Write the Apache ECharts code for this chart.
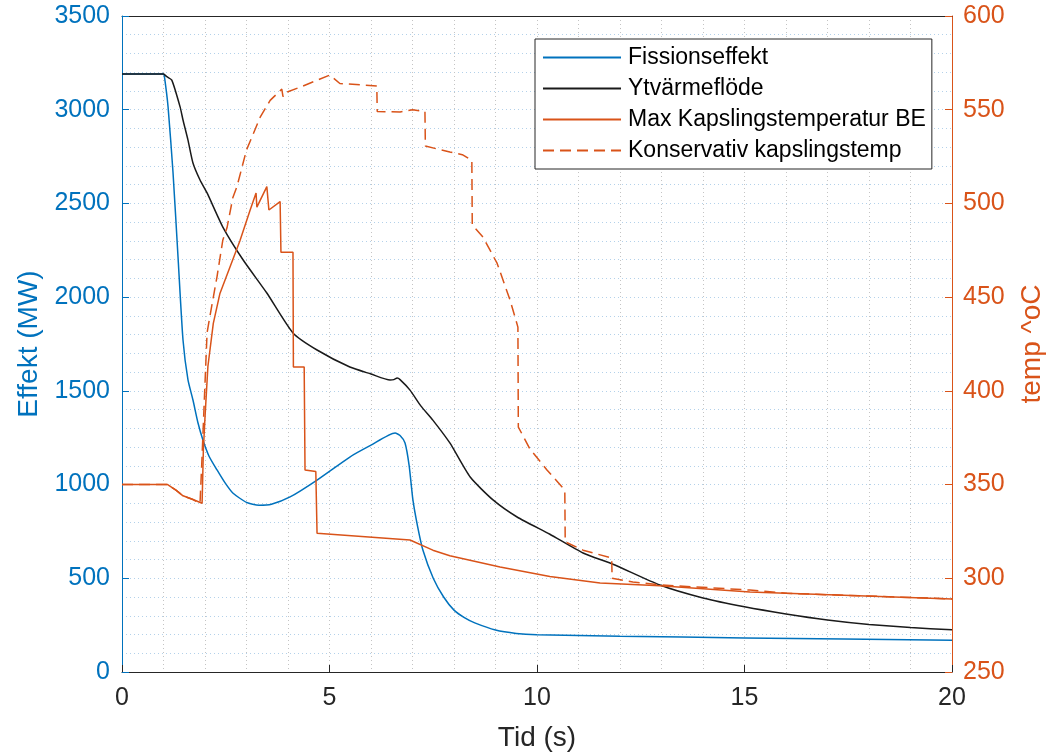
<!DOCTYPE html>
<html lang="sv">
<head>
    <meta charset="utf-8">
    <title>Effekt och kapslingstemperatur</title>
    <script src="https://cdn.jsdelivr.net/npm/echarts@6/dist/echarts.min.js"></script>
</head>
<body style="margin:0;background:#fff;">
    <div id="main" style="width:1051px;height:754px;"></div>
    <script type="text/javascript">
    // Fissionseffekt (MW)
    var fissionT  = [0, 1.0, 1.02, 1.11, 1.23, 1.35, 1.47, 1.59, 1.71, 1.83, 1.95, 2.1, 2.29, 2.48, 2.67, 3.0, 3.3, 3.6, 4.05, 4.7, 5.49, 6.0, 6.58, 6.7, 6.82, 6.92, 7.01, 7.12, 7.25, 7.5, 7.75, 8.0, 8.25, 8.5, 9.0, 9.5, 10, 12, 15, 20];
    var fissionMW = [3190, 3190, 3180, 3015, 2662, 2214, 1771, 1558, 1451, 1330, 1238, 1150, 1078, 1010, 955, 905, 890, 895, 934, 1024, 1147, 1210, 1275, 1262, 1222, 1100, 918, 780, 651, 500, 400, 330, 290, 262, 224, 206, 199, 191, 182, 170];

    // Ytvärmeflöde (MW)
    var flodeT  = [0, 1.0, 1.08, 1.2, 1.4, 1.47, 1.59, 1.71, 1.88, 2.05, 2.43, 2.92, 3.49, 4.12, 4.7, 5.49, 6.0, 6.46, 6.55, 6.63, 6.7, 6.94, 7.2, 7.49, 7.9, 8.39, 8.94, 9.52, 10.31, 11.11, 11.83, 12.96, 14, 15, 16, 17, 18, 19, 20];
    var flodeMW = [3190, 3190, 3176, 3158, 3015, 2945, 2838, 2716, 2625, 2556, 2374, 2198, 2022, 1809, 1718, 1627, 1590, 1558, 1560, 1568, 1560, 1504, 1420, 1344, 1222, 1040, 918, 827, 735, 635, 575, 464, 395, 348, 310, 278, 254, 237, 225];

    // Max Kapslingstemperatur BE (oC)
    var beT    = [0, 1.1, 1.3, 1.47, 1.71, 1.93, 1.96, 2.0, 2.07, 2.2, 2.36, 2.6, 2.84, 3.08, 3.23, 3.25, 3.49, 3.54, 3.81, 3.83, 4.12, 4.13, 4.39, 4.41, 4.67, 4.7, 6.94, 7.49, 7.9, 9.11, 10.31, 11.52, 12.96, 15.13, 20];
    var beTemp = [350, 350, 347, 344, 342, 340, 368, 386, 413, 436, 452, 466, 480, 496, 505.6, 498, 509, 496.5, 501, 474, 474, 412.7, 412.7, 357.8, 357, 324, 320.4, 315, 312, 306, 301, 297.5, 296, 292.7, 289];

    // Konservativ kapslingstemp (oC)
    var konsT    = [0, 1.1, 1.3, 1.47, 1.71, 1.88, 1.92, 2.0, 2.05, 2.12, 2.29, 2.43, 2.53, 2.67, 2.77, 3.0, 3.33, 3.57, 3.85, 3.88, 3.92, 4.29, 5.01, 5.25, 6.14, 6.15, 6.7, 7.0, 7.3, 7.31, 7.9, 8.2, 8.43, 8.44, 8.7, 9.04, 9.35, 9.54, 9.55, 9.83, 10.24, 10.67, 10.68, 11.11, 11.8, 11.81, 12.31, 12.96, 15.13, 16, 20];
    var konsTemp = [350, 350, 347, 344, 342, 340, 360, 404, 431, 440, 461, 480.5, 487, 503, 509, 528.5, 546, 555, 561, 557, 559, 562, 568.5, 564, 562.7, 549, 548.8, 550, 549, 530.6, 527.4, 526, 523, 488.5, 482, 468, 448.5, 434, 380.7, 369, 357.8, 347, 319.4, 315, 310.8, 300, 298, 296.5, 293.7, 292, 289];

    function pairs(t, v) {
        return t.map(function (x, i) { return [x, v[i]]; });
    }
    function plain(v) { return String(v); }

    var blue = '#0072BD', orange = '#D95319', ax = '#262626';
    var font = 'Liberation Sans, Arial, sans-serif';

    var myChart = echarts.init(document.getElementById('main'));

    myChart.setOption({
        animation: false,
        textStyle: { fontFamily: font },
        grid: { left: 122, right: 99, top: 16, bottom: 82, containLabel: false, outerBoundsMode: 'none' },
        legend: {
            orient: 'vertical',
            left: 535,
            top: 39,
            padding: [7, 6, 7, 7],
            itemGap: 8,
            itemWidth: 78,
            itemHeight: 20,
            backgroundColor: '#fff',
            borderColor: ax,
            borderWidth: 1,
            borderRadius: 0,
            itemStyle: { opacity: 0 },
            textStyle: { fontSize: 23, color: '#000', fontFamily: font, padding: [0, 0, 0, 2] },
            data: ['Fissionseffekt', 'Ytvärmeflöde', 'Max Kapslingstemperatur BE', 'Konservativ kapslingstemp']
        },
        xAxis: [{
            type: 'value',
            min: 0, max: 20, interval: 5,
            name: 'Tid (s)',
            nameLocation: 'middle',
            nameGap: 52,
            nameTextStyle: { fontSize: 28, color: ax },
            axisLine: { onZero: false, lineStyle: { color: ax, width: 1 } },
            axisTick: { inside: true, length: 7, lineStyle: { color: ax } },
            axisLabel: { fontSize: 25, color: ax, margin: 14, formatter: plain },
            splitLine: { show: true, lineStyle: { type: [1, 3], color: '#c4c4c4' } },
            minorTick: { show: false, splitNumber: 5 },
            minorSplitLine: { show: true, lineStyle: { type: [1, 3], color: '#c4c4c4' } }
        }, {
            type: 'value',
            position: 'top',
            min: 0, max: 20, interval: 5,
            axisLine: { show: true, onZero: false, lineStyle: { color: ax, width: 1 } },
            axisTick: { show: false },
            axisLabel: { show: false },
            splitLine: { show: false }
        }],
        yAxis: [{
            type: 'value',
            position: 'left',
            min: 0, max: 3500, interval: 500,
            name: 'Effekt (MW)',
            nameLocation: 'middle',
            nameRotate: 90,
            nameGap: 72,
            nameTextStyle: { fontSize: 28, color: blue },
            axisLine: { show: true, onZero: false, lineStyle: { color: blue } },
            axisTick: { show: true, inside: true, length: 7, lineStyle: { color: blue } },
            axisLabel: { fontSize: 25, color: blue, margin: 12, formatter: plain },
            splitLine: { show: true, lineStyle: { type: [1, 3], color: '#b3d1ea' } },
            minorTick: { show: false, splitNumber: 5 },
            minorSplitLine: { show: true, lineStyle: { type: [1, 3], color: '#b3d1ea' } }
        }, {
            type: 'value',
            position: 'right',
            min: 250, max: 600, interval: 50,
            name: 'temp ^oC',
            nameLocation: 'middle',
            nameRotate: 90,
            nameGap: 66,
            nameTextStyle: { fontSize: 28, color: orange },
            axisLine: { show: true, onZero: false, lineStyle: { color: orange } },
            axisTick: { show: true, inside: true, length: 7, lineStyle: { color: orange } },
            axisLabel: { fontSize: 25, color: orange, margin: 11, formatter: plain },
            splitLine: { show: false }
        }],
        series: [{
            name: 'Fissionseffekt',
            type: 'line',
            yAxisIndex: 0,
            symbol: 'none',
            smooth: 0.2,
            color: blue,
            lineStyle: { color: blue, width: 1.5 },
            data: pairs(fissionT, fissionMW)
        }, {
            name: 'Ytvärmeflöde',
            type: 'line',
            yAxisIndex: 0,
            symbol: 'none',
            smooth: 0.2,
            color: '#1a1a1a',
            lineStyle: { color: '#1a1a1a', width: 1.5 },
            data: pairs(flodeT, flodeMW)
        }, {
            name: 'Max Kapslingstemperatur BE',
            type: 'line',
            yAxisIndex: 1,
            symbol: 'none',
            color: orange,
            lineStyle: { color: orange, width: 1.5 },
            data: pairs(beT, beTemp)
        }, {
            name: 'Konservativ kapslingstemp',
            type: 'line',
            yAxisIndex: 1,
            symbol: 'none',
            color: orange,
            lineStyle: { color: orange, width: 1.5, type: [11, 6] },
            data: pairs(konsT, konsTemp)
        }]
    });
    </script>
</body>
</html>
